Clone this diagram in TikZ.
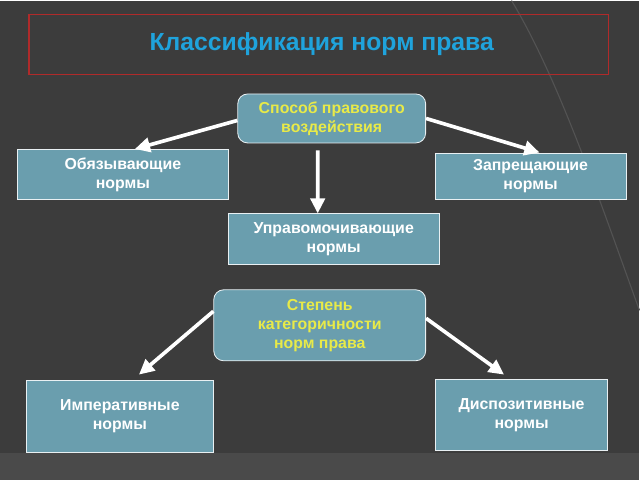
\documentclass[tikz,border=0pt]{standalone}
\usepackage{fontspec}
\setmainfont{Liberation Sans}
\usetikzlibrary{positioning, arrows.meta}
\definecolor{bg}{HTML}{3C3C3C}
\definecolor{bgband}{HTML}{4A4A4A}
\definecolor{boxfill}{HTML}{6A9EAE}
\definecolor{titleblue}{HTML}{1FA3DC}
\definecolor{frame}{HTML}{B02A2A}
\definecolor{hdtext}{HTML}{E8EA48}

\begin{document}
\begin{tikzpicture}[x=0.025cm, y=-0.025cm,
        box/.style={rectangle, draw=white!85!boxfill, line width=0.6pt, fill=boxfill,
          text=white, font=\bfseries\fontsize{11.3}{13.6}\selectfont, align=center, inner sep=0pt},
        head/.style={box, rounded corners=7pt, text=hdtext},
        arr/.style={draw=white, line width=2.6pt, -{Triangle[length=3.8mm, width=3.6mm]}}]
        % background
        \fill[bg] (0,0) rectangle (640,480);
        \fill[bgband] (0,453) rectangle (640,480);
        \draw[white!12!bg, line width=0.8pt] (512,0) .. controls (560,80) and (600,200) .. (640,310);
        % title
        \draw[frame, line width=0.8pt] (29,14) rectangle (609,74);
        \node[text=titleblue, font=\bfseries\fontsize{17.6}{20}\selectfont] (title) at (322,44) {Классификация норм права};
        % first group
        \node[head, minimum width=4.7cm, minimum height=1.225cm] (sposob) at (332,118) {Способ правового\\воздействия};
        \node[box, minimum width=5.3cm, minimum height=1.25cm] (obyaz) at (123,174) {Обязывающие\\нормы};
        \node[box, minimum width=4.775cm, minimum height=1.175cm] (zapr) at (531,176) {Запрещающие\\нормы};
        \node[box, minimum width=5.275cm, minimum height=1.275cm] (upr) at (334,239) {Управомочивающие\\нормы};
        \draw[arr] ([yshift=-0.05cm]sposob.west) -- ([xshift=0.3cm]obyaz.north);
        \draw[arr] (sposob.east) -- ([xshift=0.225cm]zapr.north);
        \draw[arr, shorten <=0.175cm] ([xshift=-0.35cm]sposob.south) -- ([xshift=-0.4cm]upr.north);
        % second group
        \node[head, minimum width=5.3cm, minimum height=1.775cm] (stepen) at (320,325) {Степень\\категоричности\\норм права};
        \node[box, minimum width=4.675cm, minimum height=1.8cm] (imper) at (120,416) {Императивные\\нормы};
        \node[box, minimum width=4.3cm, minimum height=1.775cm] (disp) at (522,415) {Диспозитивные\\нормы};
        \draw[arr, shorten >=0.2cm] ([yshift=0.35cm]stepen.west) -- ([xshift=0.325cm]imper.north);
        \draw[arr, shorten >=0.2cm] ([yshift=0.175cm]stepen.east) -- ([xshift=-0.275cm]disp.north);
\end{tikzpicture}
\end{document}
